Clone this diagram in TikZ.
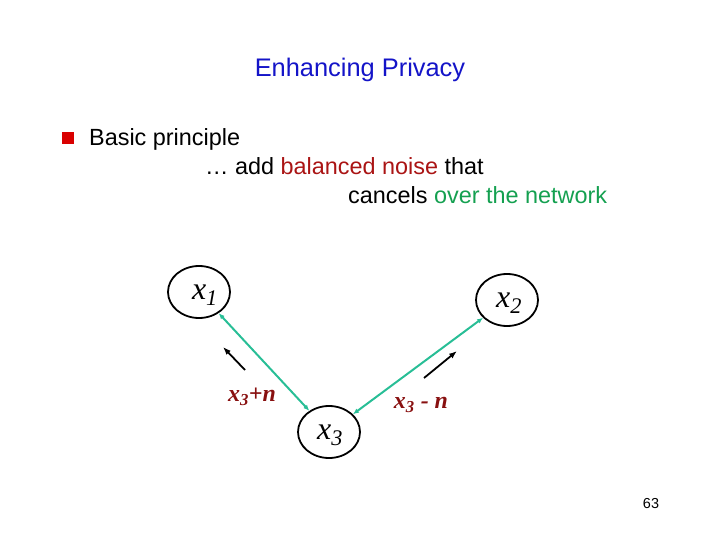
\documentclass[tikz,border=0pt]{standalone}
\usepackage{fontspec}
\setmainfont{Liberation Sans}
\newfontfamily\serifx{Liberation Serif}
\definecolor{tblue}{RGB}{20,20,200}
\definecolor{nred}{RGB}{170,20,20}
\definecolor{ngreen}{RGB}{20,160,80}
\definecolor{lgreen}{RGB}{40,190,150}
\begin{document}
\begin{tikzpicture}[x=1bp,y=-1bp,
  pnode/.style={draw,line width=1.8pt,ellipse,minimum width=62bp,minimum height=52bp,inner sep=0pt},
  lab/.style={font=\serifx\itshape\fontsize{32}{32}\selectfont},
  elab/.style={font=\serifx\bfseries\itshape\fontsize{24}{24}\selectfont,text=nred!80!black},
  link/.style={lgreen,line width=2pt,{Latex[length=6pt,width=5pt]}-{Latex[length=6pt,width=5pt]}},
  dir/.style={black,line width=1.8pt,-{Latex[length=8pt,width=6pt]}},
  txt/.style={font=\fontsize{23.5}{28}\selectfont,anchor=base west,inner sep=0pt}]
\useasboundingbox (0,0) rectangle (720,540);
\usetikzlibrary{arrows.meta,shapes.geometric}
\node[font=\fontsize{25.5}{30}\selectfont,text=tblue] (title) at (360,70) {Enhancing Privacy};
\node[fill=red!85!black,minimum size=12bp,inner sep=0pt] (bul) at (68,138) {};
\node[txt] (t1) at (89,146) {Basic principle};
\node[txt] (t2) at (205,175) {\dots\ add \textcolor{nred}{balanced noise} that};
\node[txt] (t3) at (348,204) {cancels \textcolor{ngreen}{over the network}};
\node[pnode] (x1) at (199,292) {};
\node[lab] at (205,295) {x\textsubscript{1}};
\node[pnode] (x2) at (507,300) {};
\node[lab] at (509,303) {x\textsubscript{2}};
\node[pnode] (x3) at (329,432) {};
\node[lab] at (330,435) {x\textsubscript{3}};
\draw[link] (x3) -- (x1);
\draw[link] (x3) -- (x2);
\coordinate (a1s) at (245,370); \coordinate (a1e) at (223,347);
\coordinate (a2s) at (424,378); \coordinate (a2e) at (457,351);
\draw[dir] (a1s) -- (a1e);
\draw[dir] (a2s) -- (a2e);
\node[elab] (l1) at (252,397) {x\textsubscript{3}+n};
\node[elab] (l2) at (421,405) {x\textsubscript{3} - n};
\node[font=\fontsize{14.5}{16}\selectfont] (pg) at (651,504) {63};
\end{tikzpicture}
\end{document}
